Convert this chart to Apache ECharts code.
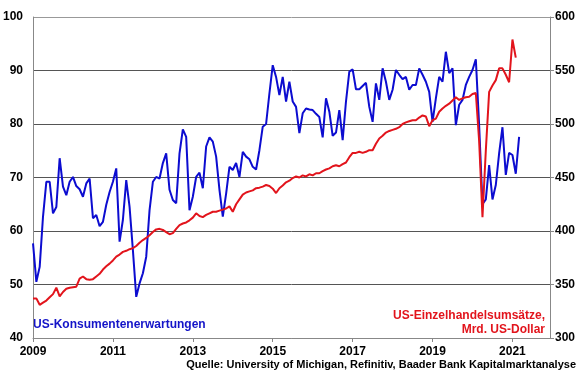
<!DOCTYPE html>
<html>
<head>
<meta charset="utf-8">
<script src="https://cdn.jsdelivr.net/npm/echarts@6/dist/echarts.min.js"></script>
<style>
  html, body { margin: 0; padding: 0; background: #fff; }
  #chart { width: 580px; height: 375px; }
</style>
</head>
<body>
<div id="chart"></div>
<script>
// monatliche Werte ab Jan 2009
const startYear = 2009;

// US-Konsumentenerwartungen (Univ. of Michigan), linke Achse
const expectations = [
  57.7, 50.5, 53.3, 62.7, 69.2, 69.2, 63.3, 64.5, 73.6, 68.3, 66.7, 69.2, // 2009
  70.1, 68.4, 67.8, 66.4, 68.9, 69.8, 62.4, 63.0, 60.9, 61.7, 64.9, 67.3, // 2010
  69.2, 71.7, 58.0, 62.1, 69.5, 64.5, 56.4, 47.7, 50.2, 52.1, 55.2, 63.9, // 2011
  69.2, 70.1, 69.8, 72.7, 74.5, 67.7, 65.8, 65.2, 74.5, 79.0, 77.6, 63.9, // 2012
  66.4, 70.1, 70.9, 68.0, 75.8, 77.5, 76.7, 73.9, 67.7, 62.7, 67.0, 72.0, // 2013
  71.4, 72.7, 70.1, 74.8, 73.9, 73.4, 72.0, 71.5, 75.1, 79.5, 80.0, 85.7, // 2014
  91.0, 88.8, 85.4, 88.8, 84.2, 87.9, 84.2, 83.2, 78.3, 82.0, 82.9, 82.7, // 2015
  82.6, 81.9, 81.3, 77.5, 84.8, 82.3, 77.8, 78.4, 82.6, 77.0, 84.2, 89.8, // 2016
  90.2, 86.5, 86.5, 87.1, 87.7, 83.2, 80.4, 87.6, 84.5, 90.4, 87.9, 84.5, // 2017
  86.4, 90.1, 89.2, 88.4, 88.8, 86.4, 87.3, 87.3, 90.4, 89.2, 87.9, 86.0, // 2018
  80.4, 84.8, 88.8, 87.9, 93.5, 89.5, 90.4, 79.8, 83.6, 84.5, 87.3, 88.8, // 2019
  90.1, 92.1, 79.7, 65.0, 65.9, 72.3, 65.9, 68.6, 74.5, 79.4, 70.5, 74.6, // 2020
  74.2, 70.7, 77.6                                                        // 2021
];

// US-Einzelhandelsumsaetze, Mrd. US-Dollar, rechte Achse
const retailSales = [
  337, 337, 331, 333, 335, 338, 341, 347, 339, 343, 346, 347,                   // 2009
  347.5, 348, 355.5, 357.5, 355, 354.5, 355, 357.5, 360, 364, 367, 369.5,       // 2010
  372.5, 376, 378, 380.5, 381.5, 383, 384, 386, 389, 391.5, 393.5, 396,         // 2011
  399, 401.5, 402, 401, 399, 397, 398, 402, 405.5, 407, 408, 410,               // 2012
  412.5, 416.5, 414, 413, 415, 416.5, 418, 418, 419, 420, 421, 423,             // 2013
  418, 425, 429.5, 434, 436, 437, 438, 440, 440.5, 441.5, 443, 442,             // 2014
  439.5, 435.5, 440, 442.5, 445.5, 447, 449.5, 451, 450, 452, 451, 453,         // 2015
  452, 454, 454, 456, 457.5, 458.5, 460.5, 461.5, 460.5, 462.5, 464, 469,       // 2016
  473, 473, 474, 473, 474, 475.5, 475.5, 481.5, 486.5, 489, 492, 493.5,         // 2017
  494.5, 495.5, 497, 500, 501.5, 502.5, 503.5, 503.5, 506, 508, 507, 498,       // 2018
  503.5, 505, 511.5, 514.5, 517, 519, 522, 525, 522.5, 524, 525, 525.5,         // 2019
  528, 529, 484, 413, 475, 530, 536, 541, 552, 552, 546, 539,                   // 2020
  579, 562                                                                      // 2021
];

const leftTicks = [40, 100, 10];
const rightTicks = [300, 600, 50];
const yearTicks = [2009, 2021.94, 2];

const toPoints = vals => vals.map((v, i) => [startYear + i / 12, v]);

const font = '"Liberation Sans", Arial, sans-serif';
const chart = echarts.init(document.getElementById('chart'), null, { renderer: 'canvas' });

const option = {
  animation: false,
  backgroundColor: '#fff',
  grid: { left: 29, right: 30, top: 17, bottom: 37, containLabel: false },
  xAxis: {
    type: 'value',
    min: yearTicks[0],
    max: yearTicks[1],
    interval: yearTicks[2],
    axisLine: { show: true, lineStyle: { color: '#888', width: 1 } },
    axisTick: { show: true, length: 4, lineStyle: { color: '#888' } },
    splitLine: { show: false },
    axisLabel: {
      margin: 8,
      color: '#000',
      fontFamily: font,
      fontWeight: 'bold',
      fontSize: 12,
      showMaxLabel: false,
      formatter: v => (Number.isInteger(v) ? String(v) : '')
    }
  },
  yAxis: [
    {
      type: 'value',
      position: 'left',
      min: leftTicks[0],
      max: leftTicks[1],
      interval: leftTicks[2],
      axisLine: { show: true, lineStyle: { color: '#888' } },
      axisTick: { show: false },
      splitLine: {
        show: true,
        lineStyle: { color: ['#888', '#555', '#555', '#555', '#555', '#555', '#999'], width: 1 }
      },
      axisLabel: {
        margin: 10,
        color: '#000',
        fontFamily: font,
        fontWeight: 'bold',
        fontSize: 12
      }
    },
    {
      type: 'value',
      position: 'right',
      min: rightTicks[0],
      max: rightTicks[1],
      interval: rightTicks[2],
      axisLine: { show: true, lineStyle: { color: '#888' } },
      axisTick: { show: true, length: 4, lineStyle: { color: '#888' } },
      splitLine: { show: false },
      axisLabel: {
        margin: 5,
        color: '#000',
        fontFamily: font,
        fontWeight: 'bold',
        fontSize: 12
      }
    }
  ],
  series: [
    {
      name: 'US-Konsumentenerwartungen',
      type: 'line',
      yAxisIndex: 0,
      showSymbol: false,
      data: toPoints(expectations),
      lineStyle: { color: '#0c0cd0', width: 2 },
      z: 3
    },
    {
      name: 'US-Einzelhandelsumsätze',
      type: 'line',
      yAxisIndex: 1,
      showSymbol: false,
      data: toPoints(retailSales),
      lineStyle: { color: '#e2141c', width: 2 },
      z: 4
    }
  ],
  graphic: [
    {
      type: 'text',
      left: 33,
      top: 319,
      style: {
        text: 'US-Konsumentenerwartungen',
        fill: '#1414c8',
        font: 'bold 12px ' + font
      }
    },
    {
      type: 'text',
      right: 35,
      top: 310,
      style: {
        text: 'US-Einzelhandelsumsätze,',
        fill: '#e2141c',
        font: 'bold 12px ' + font
      }
    },
    {
      type: 'text',
      right: 35,
      top: 324,
      style: {
        text: 'Mrd. US-Dollar',
        fill: '#e2141c',
        font: 'bold 12px ' + font
      }
    },
    {
      type: 'text',
      right: 4,
      top: 359,
      style: {
        text: 'Quelle: University of Michigan, Refinitiv, Baader Bank Kapitalmarktanalyse',
        fill: '#000',
        font: 'bold 11px ' + font
      }
    }
  ]
};

chart.setOption(option);
</script>
</body>
</html>
